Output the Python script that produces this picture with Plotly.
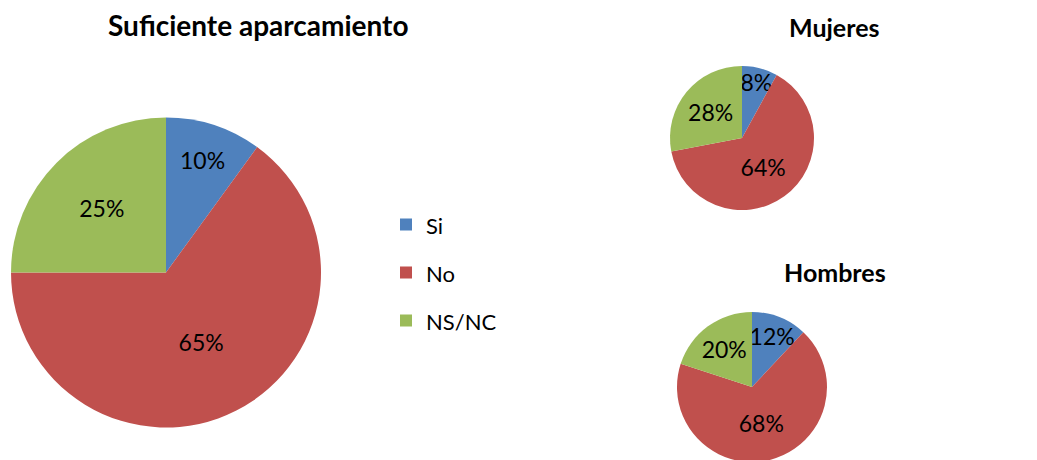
import plotly.graph_objects as go

labels = ["Si", "No", "NS/NC"]
total_vals = [10, 65, 25]
mujeres_vals = [8, 64, 28]
hombres_vals = [12, 68, 20]
colors = ["#4F81BD", "#C0504D", "#9BBB59"]

titles = ["Suficiente aparcamiento", "Mujeres", "Hombres"]

FONT = "Lato, 'Open Sans', Arial, sans-serif"
W, H = 1037, 460
OFF = 8  # page body margin


def px(x):
    return (x - OFF) / W


def py(y):
    return 1 - (y - OFF) / H


legend_labels = [f"<span style='font-size:22px;baseline-shift:4px'>{l}</span>" for l in labels]


def pie(vals, dom_x, dom_y, legend):
    return go.Pie(
        labels=legend_labels, values=vals, sort=False, direction="clockwise",
        rotation=0, marker=dict(colors=colors, line=dict(width=0)),
        texttemplate="%{percent:.0%}",
        textposition="inside", insidetextorientation="horizontal",
        textfont=dict(family=FONT, size=23, color="black"),
        domain=dict(x=dom_x, y=dom_y), legend=legend, hoverinfo="percent",
    )


fig = go.Figure()
fig.add_trace(pie(total_vals, [px(11), px(321)], [py(428), py(117)], "legend"))
fig.add_trace(pie(mujeres_vals, [px(670), px(814)], [py(210), py(66)], "legend2"))
fig.add_trace(pie(hombres_vals, [px(677), px(827)], [py(462), py(312)], "legend3"))

leg_common = dict(font=dict(family=FONT, size=34.6, color="black"),
                  bgcolor="rgba(0,0,0,0)", xanchor="left", yanchor="top",
                  traceorder="normal")

fig.update_layout(
    width=W, height=H, margin=dict(l=0, r=0, t=0, b=0),
    paper_bgcolor="white", plot_bgcolor="white",
    showlegend=True,
    uniformtext=dict(minsize=23, mode="show"),
    legend=dict(x=px(386), y=py(195.5), **leg_common),
    legend2=dict(x=px(928), y=py(72.7), **leg_common),
    legend3=dict(x=px(928), y=py(317.7), **leg_common),
    annotations=[
        dict(text=f"<b>{titles[0]}</b>", x=px(258), y=py(25), xref="paper", yref="paper",
             xanchor="center", yanchor="middle", showarrow=False,
             font=dict(family=FONT, size=28, color="black")),
        dict(text=f"<b>{titles[1]}</b>", x=px(834), y=py(27), xref="paper", yref="paper",
             xanchor="center", yanchor="middle", showarrow=False,
             font=dict(family=FONT, size=25, color="black")),
        dict(text=f"<b>{titles[2]}</b>", x=px(835), y=py(272), xref="paper", yref="paper",
             xanchor="center", yanchor="middle", showarrow=False,
             font=dict(family=FONT, size=25, color="black")),
    ],
)

fig.write_html("out.html")
